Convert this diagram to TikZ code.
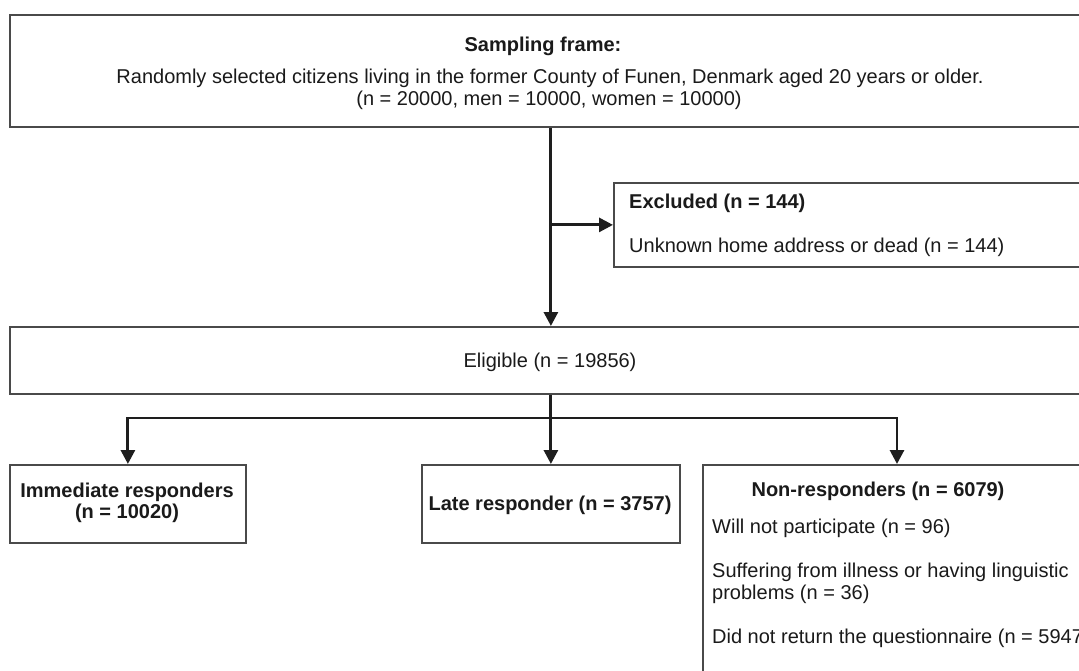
\documentclass[tikz,border=0pt]{standalone}
\usepackage{fontspec}
\setmainfont{Liberation Sans}
\usetikzlibrary{arrows.meta}
\definecolor{boxc}{HTML}{4A4A4A}
\definecolor{arrc}{HTML}{1E1E1E}
\definecolor{txtc}{HTML}{1A1A1A}
\tikzset{
  box/.style={draw=boxc, line width=1.8pt, fill=white, inner sep=0pt, anchor=north west},
  txt/.style={text=txtc, inner sep=0pt, font=\fontsize{20}{23}\selectfont},
  btxt/.style={txt, font=\fontsize{20}{23}\selectfont\bfseries},
  ln/.style={draw=arrc, line width=2.9pt},
  arr/.style={ln, -{Triangle[length=14pt,width=14pt]}},
}
\begin{document}
\begin{tikzpicture}[x=1pt,y=-1pt]
\useasboundingbox (0,0) rectangle (1079,671);
\clip (0,0) rectangle (1079,671);
% boxes
\node[box, minimum width=1082pt, minimum height=112pt] (frame) at (9,14) {};
\node[box, minimum width=500pt, minimum height=84pt] (excl) at (613,182) {};
\node[box, minimum width=1082pt, minimum height=67pt] (elig) at (9,326) {};
\node[box, minimum width=236pt, minimum height=78pt] (imm) at (9,464) {};
\node[box, minimum width=258pt, minimum height=78pt] (late) at (421,464) {};
\node[box, minimum width=500pt, minimum height=300pt] (nr) at (702,464) {};
% texts
\node[btxt, anchor=base] (t1) at (543,52) {Sampling frame:};
\node[txt, anchor=base] (t2) at (550,84) {Randomly selected citizens living in the former County of Funen, Denmark aged 20 years or older.};
\node[txt, anchor=base] (t3) at (549,106) {(n = 20000, men = 10000, women = 10000)};
\node[btxt, anchor=base west] (t4) at (629,209) {Excluded (n = 144)};
\node[txt, anchor=base west] (t5) at (629,252) {Unknown home address or dead (n = 144)};
\node[txt, anchor=base] (t6) at (550,367) {Eligible (n = 19856)};
\node[btxt, anchor=base] (t7) at (127,497) {Immediate responders};
\node[btxt, anchor=base] (t8) at (127,518) {(n = 10020)};
\node[btxt, anchor=base] (t9) at (550,510) {Late responder (n = 3757)};
\node[btxt, anchor=base] (t10) at (878,496) {Non-responders (n = 6079)};
\node[txt, anchor=base west] (t11) at (712,533) {Will not participate (n = 96)};
\node[txt, anchor=base west] (t12) at (712,577) {Suffering from illness or having linguistic};
\node[txt, anchor=base west] (t13) at (712,599) {problems (n = 36)};
\node[txt, anchor=base west] (t14) at (712,643) {Did not return the questionnaire (n = 5947)};
% connectors
\draw[arr] (frame.south) -- (elig.north);
\draw[arr] (frame.south |- excl.west) -- (excl.west);
\coordinate (split) at (550,418);
\coordinate (nrin) at (897,464);
\draw[arr] (elig.south) -- (late.north);
\draw[arr] (split) -| (imm.north);
\draw[arr] (split) -| (nrin);
\end{tikzpicture}
\end{document}
